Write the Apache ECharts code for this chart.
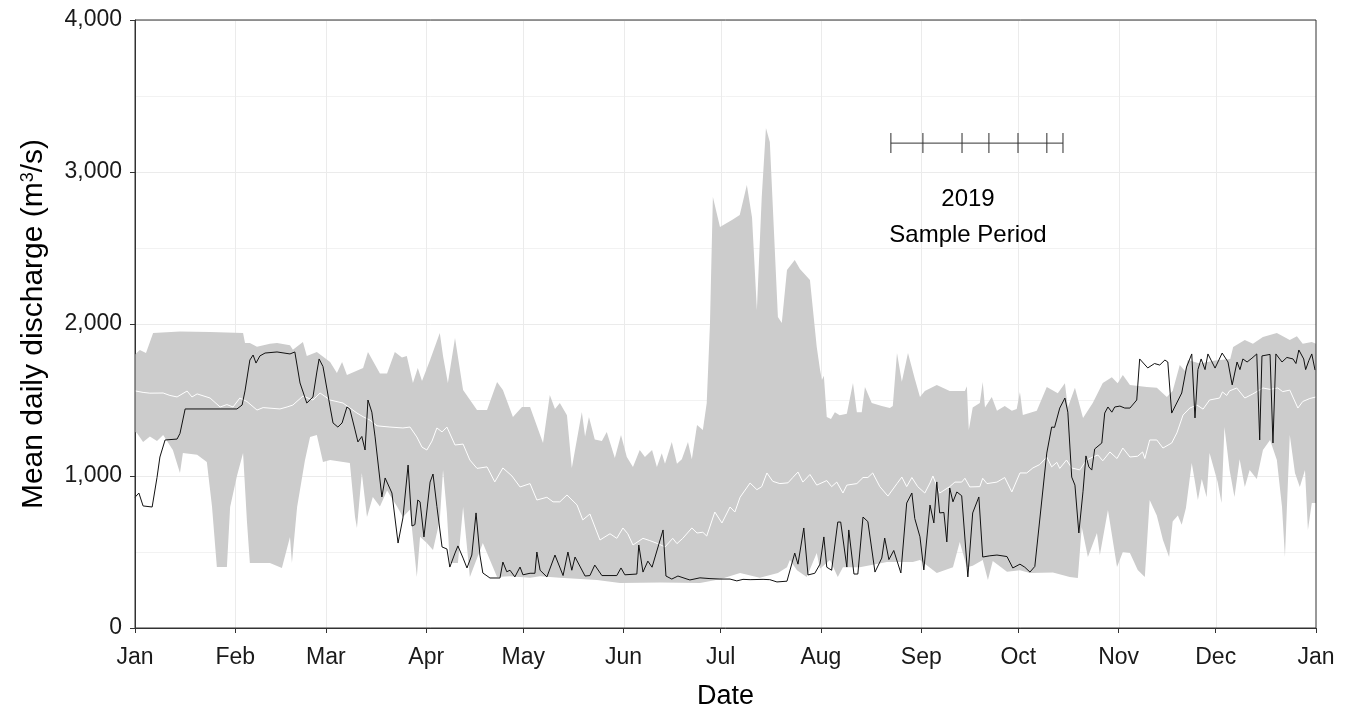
<!DOCTYPE html>
<html>
<head>
<meta charset="utf-8">
<script src="https://cdn.jsdelivr.net/npm/echarts@6/dist/echarts.min.js"></script>
<style>html,body{margin:0;padding:0;background:#fff}#c{width:1351px;height:708px}</style>
</head>
<body>
<div id="c"></div>
<script>
// Day of year (0 = Jan 1) and discharge (m3/s)
const monthDays = [0, 31, 59, 90, 120, 151, 181, 212, 243, 273, 304, 334, 365];
const monthLabels = ['Jan','Feb','Mar','Apr','May','Jun','Jul','Aug','Sep','Oct','Nov','Dec','Jan'];
const yTicks = [0, 1000, 2000, 3000, 4000];

// Historical maximum (upper edge of grey band)
const bandUpper = [[0,1800],[1.5,1829],[3.4,1810],[5.6,1941],[13.9,1950],[23.2,1947],[33.4,1940],[34,1875],[35.5,1875],[37.7,1850],[41.7,1870],[43.9,1875],[47.9,1860],[48.8,1830],[51.9,1882],[53.1,1790],[56.2,1815],[60.3,1750],[62.4,1678],[64,1750],[65.5,1665],[70.5,1710],[72,1816],[75.7,1675],[77.9,1675],[80.3,1816],[82.5,1780],[84,1790],[85.9,1612],[87.4,1711],[88.7,1625],[91.2,1763],[94.2,1941],[95.2,1790],[96.7,1612],[98.9,1908],[101.4,1566],[105.7,1434],[108.8,1434],[111.9,1618],[113.7,1566],[116.8,1388],[119.6,1454],[122.1,1454],[126.1,1217],[128.2,1533],[129.8,1440],[131.3,1480],[133.5,1400],[135,1053],[138.1,1421],[139.1,1260],[140.3,1388],[142.1,1240],[144.3,1230],[145.8,1289],[148.3,1118],[150.2,1270],[152,1125],[153.9,1059],[156,1171],[157.6,1125],[159.8,1171],[161.3,1059],[162.8,1150],[163.8,1080],[165.9,1224],[167.5,1080],[169,1110],[170.9,1224],[172.1,1110],[173.7,1336],[175.5,1303],[176.7,1480],[177.7,2000],[178.6,2836],[180.8,2638],[184.5,2684],[186.9,2717],[189.1,2914],[190.7,2700],[192.2,2092],[193.7,2836],[195,3289],[196.2,3197],[198.7,2046],[199.9,2007],[201.5,2355],[203.9,2421],[205.5,2362],[208.6,2289],[210.7,1849],[211.7,1700],[212.3,1632],[212.9,1660],[213.8,1388],[215.1,1375],[216.3,1420],[217.8,1400],[220,1410],[221.9,1612],[223.1,1420],[224.6,1420],[225.6,1586],[227.7,1480],[230.8,1460],[233.3,1447],[234.2,1460],[235.5,1809],[237,1620],[238.9,1809],[241,1640],[242.6,1520],[244.1,1560],[247.8,1599],[251.8,1560],[256.5,1560],[257.1,1590],[257.7,1303],[258.9,1450],[261.1,1480],[262,1618],[262.7,1450],[264.8,1520],[266.4,1430],[268.8,1460],[271,1430],[272.5,1440],[273.5,1553],[274.4,1401],[278.7,1430],[281.8,1586],[285.2,1545],[287.4,1610],[288.3,1450],[290.5,1580],[293,1382],[296,1480],[299.1,1612],[301.9,1650],[303.7,1610],[305.3,1664],[307.5,1599],[312.7,1586],[315.8,1580],[318.9,1520],[320.7,1560],[322.9,1730],[324.5,1690],[325.4,1763],[329.1,1740],[333.8,1760],[338.5,1770],[339.4,1849],[343,1895],[345.5,1870],[348.6,1914],[352.9,1941],[356.9,1895],[359.1,1920],[360.9,1870],[363.7,1882],[365,1870]];

// Historical minimum (lower edge of grey band)
const bandLower = [[0,1290],[0.6,1283],[2.5,1224],[4.6,1260],[6.8,1230],[8.7,1270],[11.7,1171],[13.9,1020],[14.8,1151],[19.2,1140],[22.2,1092],[23.8,800],[25.3,401],[28.4,401],[29.4,796],[31.5,1000],[33.4,1151],[34.6,700],[35.5,428],[41.7,428],[45.4,395],[47.9,599],[48.5,428],[50.1,796],[52.5,1100],[54.1,1257],[56.2,1270],[58.1,1092],[60.3,1105],[66.4,1085],[68,730],[68.6,658],[70.1,1020],[71.7,730],[73.5,862],[75.7,800],[77.9,905],[81,800],[82.8,730],[85,780],[86.5,467],[87.1,336],[88.1,600],[90.2,560],[92.1,513],[94.2,711],[95.2,1039],[96.4,757],[97.3,428],[99.8,428],[101.4,796],[103.5,336],[107.5,560],[111.9,336],[115.9,340],[122.1,330],[125.2,340],[131.3,330],[142.8,316],[149.9,296],[162.3,300],[174.6,296],[180.8,320],[187,362],[193.1,330],[198.7,362],[201.5,400],[202.4,447],[204.6,380],[207.6,336],[210.7,493],[211.7,390],[214.8,447],[217.2,336],[218.8,400],[224,400],[232.4,434],[240.4,434],[242.6,447],[247.8,362],[252.8,400],[254.9,566],[257.1,400],[258.9,410],[262,447],[263.6,316],[265.1,440],[269.5,370],[273.5,380],[276.6,362],[283.7,365],[288.9,336],[291.4,329],[292.6,665],[294.5,467],[297.3,625],[298.2,480],[300.7,776],[303.5,401],[305.3,500],[307.5,493],[309.9,382],[312.1,336],[313.6,842],[315.8,740],[317.7,579],[319.6,467],[320.7,700],[322.3,740],[323.5,680],[324.8,790],[326.6,1086],[327.6,960],[328.5,842],[329.7,980],[331.2,860],[332.1,1151],[334.6,960],[335.8,822],[336.7,1322],[338.3,1040],[339.8,862],[341.4,1110],[343,928],[344.5,1040],[346.7,980],[348.6,1171],[350.8,1237],[352.9,1105],[354.5,796],[355.4,467],[356.9,1270],[358.5,1020],[360,928],[361.6,1040],[362.5,645],[363.7,822],[365,822]];

// Historical median (white line)
const medianFlow = [[0,1560],[2.5,1550],[4.6,1545],[8.7,1546],[10.8,1530],[13,1520],[16.1,1559],[17.6,1520],[19.2,1540],[23.2,1513],[26.3,1454],[28.4,1470],[30.3,1454],[32.4,1513],[34.6,1490],[37.7,1434],[39.6,1450],[44.8,1441],[47,1454],[48.8,1467],[51.9,1526],[55,1500],[57.2,1546],[60.3,1500],[64.3,1480],[68.6,1414],[70.5,1390],[72.6,1368],[74.8,1330],[78.8,1322],[82.8,1316],[85,1322],[87.1,1257],[88.7,1190],[90.2,1171],[91.8,1230],[93.3,1316],[94.9,1290],[96.4,1322],[98.9,1204],[101.4,1210],[103.5,1105],[105.7,1050],[108.8,1060],[111.2,961],[113.7,1053],[116.5,1000],[119,928],[122.1,950],[124.2,842],[127.3,860],[129.2,830],[131.3,830],[133.5,875],[136.6,810],[138.4,711],[140.6,750],[143.7,579],[146.8,620],[148.9,590],[150.8,658],[152.3,620],[153.9,546],[157,590],[159.1,575],[161.6,555],[163.8,533],[166.2,590],[167.5,555],[169.3,590],[172.1,658],[173.7,625],[175.5,630],[176.7,605],[179.2,763],[181.4,691],[183.9,796],[185.4,763],[187,860],[190.1,954],[192.2,910],[193.7,930],[195.3,1020],[197.1,965],[199.3,950],[201.8,955],[203.3,990],[204.9,1026],[206.4,960],[208.6,1010],[210.7,940],[213.8,970],[215.3,930],[216.9,960],[218.8,888],[220,940],[223.1,950],[225,990],[226.5,990],[228,1020],[230.2,930],[232.7,868],[235.5,950],[237,993],[238.5,930],[240.1,990],[241.9,930],[244.1,888],[245.7,954],[246.6,1000],[248.7,888],[251.8,930],[253.4,960],[255.5,960],[256.5,985],[258,928],[261.1,930],[262,985],[263.3,950],[266.4,960],[268.8,990],[271,895],[273.5,1020],[275.6,1020],[277.5,1053],[279.6,1075],[281.8,1125],[283.3,1060],[284.9,1090],[285.8,1050],[287.9,1105],[289.5,1053],[292,1040],[294.1,1105],[296,1125],[297.6,1138],[299.1,1100],[301.3,1158],[303.5,1115],[305.3,1184],[307.5,1125],[309.9,1130],[311.4,1158],[312.1,1115],[313.6,1237],[315.8,1237],[317.7,1184],[320.4,1217],[322,1283],[323.9,1401],[326,1447],[328.2,1467],[330.1,1440],[332.1,1500],[335.2,1513],[336.1,1553],[337.4,1530],[338.3,1560],[340.5,1579],[343,1513],[345.5,1540],[348.6,1579],[350.8,1570],[353.2,1579],[354.7,1555],[356.9,1565],[359.4,1447],[360.9,1490],[363.1,1510],[365,1520]];

// 2019 mean daily discharge (black line)
const flow2019 = [[0,860],[0.6,855],[1.2,888],[2.5,803],[5.3,796],[6.8,990],[7.7,1125],[9.3,1237],[13,1243],[13.9,1280],[15.5,1441],[31.5,1441],[33.1,1467],[34,1560],[35.5,1763],[36.5,1796],[37.4,1743],[38.6,1790],[40.2,1809],[43.9,1816],[47.9,1803],[49.4,1816],[51,1612],[53.1,1480],[55,1520],[56.2,1684],[56.9,1770],[58.1,1720],[60.3,1454],[61.2,1349],[62.7,1322],[64,1349],[65.5,1454],[66.4,1440],[68,1303],[68.9,1224],[70.1,1260],[71.1,1171],[72,1500],[73.2,1420],[74.2,1257],[76.3,862],[77.3,987],[79.4,888],[81.3,559],[82.8,724],[84.4,1072],[85.6,671],[86.5,680],[87.4,842],[88.1,830],[89.3,599],[91.2,960],[92.1,1013],[93.3,800],[94.9,533],[96.4,520],[97.3,401],[98.9,493],[99.8,540],[101.4,460],[102.6,395],[104.1,480],[105.4,757],[106.6,480],[107.5,362],[109.7,329],[112.8,329],[113.7,434],[114.9,370],[115.9,380],[117.4,336],[119,401],[119.9,350],[122.1,360],[123.6,360],[124.2,500],[125.2,380],[127.3,336],[129.8,480],[132.3,345],[133.8,500],[135,380],[136,467],[139.1,342],[140.6,345],[142.1,414],[144.3,345],[148.9,345],[150.2,395],[151.4,350],[155.1,355],[155.7,546],[157,368],[158.5,440],[159.8,400],[163.2,645],[164.1,342],[165.9,322],[167.8,342],[170.6,322],[171.5,316],[174.6,330],[177.7,325],[180.8,322],[183.9,322],[186,310],[187.9,320],[190.1,318],[194.1,320],[196.2,318],[198.4,303],[201.5,308],[203.9,493],[204.9,420],[206.7,658],[208,349],[210.1,360],[211.7,420],[212.9,599],[213.8,400],[215.3,380],[217.2,697],[218.1,697],[220,401],[220.6,645],[222.2,355],[223.4,355],[225,730],[226.5,700],[228.7,368],[230.8,460],[231.7,592],[233,450],[234.5,510],[236.7,362],[238.5,822],[240.1,888],[241,720],[242.6,600],[243.8,382],[245.7,809],[246.9,691],[247.8,961],[248.7,757],[250,760],[250.9,566],[251.8,921],[252.8,830],[254,895],[255.5,870],[257.4,336],[258.9,757],[260.8,862],[262,467],[264.2,475],[266.4,480],[269.5,470],[271.3,395],[273.5,420],[275,400],[276.6,368],[278.1,405],[278.7,401],[281.8,1151],[283.3,1322],[284.2,1320],[285.8,1447],[287.4,1513],[288.3,1420],[289.5,993],[290.5,940],[291.7,625],[293,900],[293.9,1132],[294.8,1060],[295.7,1039],[296.6,1178],[298.8,1217],[299.7,1414],[300.7,1454],[301.9,1420],[302.8,1454],[304.4,1460],[305.9,1447],[307.5,1447],[309.6,1500],[310.5,1770],[313,1711],[315.1,1740],[316.7,1730],[318.3,1763],[319.2,1750],[320.4,1414],[323.5,1546],[325,1717],[326.6,1803],[327.6,1382],[328.5,1700],[329.5,1770],[330.7,1700],[331.6,1803],[333.8,1710],[336,1809],[337.8,1750],[339.1,1599],[340.6,1750],[341.5,1700],[342.4,1770],[343.7,1750],[345.2,1775],[346.7,1803],[347.6,1237],[348.3,1790],[350.8,1800],[351.7,1217],[352.6,1803],[354.5,1750],[356,1780],[357.9,1770],[358.8,1740],[359.7,1829],[361.2,1770],[361.8,1700],[362.8,1760],[363.7,1803],[364.7,1697]];

// 2019 sample dates (day of year) and level of the marker row
const sampleDays = [233.6, 243.5, 255.6, 263.9, 272.9, 281.8, 286.8];
const sampleLevel = 3190;
const annotationLines = ['2019', 'Sample Period'];

const FONT = '"Liberation Sans", Arial, sans-serif';

function fmtThousands(v) {
  return String(v).replace(/\B(?=(\d{3})+(?!\d))/g, ',');
}

const chart = echarts.init(document.getElementById('c'), null, {renderer: 'canvas'});

const option = {
  animation: false,
  backgroundColor: '#ffffff',
  grid: {left: 135, right: 35, top: 20, bottom: 80, show: true, borderColor: '#333333', borderWidth: 1,
         backgroundColor: 'transparent', z: 10, containLabel: false, outerBoundsMode: 'none'},
  xAxis: {
    type: 'value', min: 0, max: 365,
    name: 'Date', nameLocation: 'middle', nameGap: 55,
    nameTextStyle: {fontFamily: FONT, fontSize: 27, color: '#000'},
    axisLine: {show: true, lineStyle: {color: '#333333', width: 1}},
    axisTick: {show: true, length: 5, customValues: monthDays, lineStyle: {color: '#333333'}},
    axisLabel: {
      customValues: monthDays, margin: 18,
      fontFamily: FONT, fontSize: 23, color: '#1a1a1a',
      formatter: function (v) { const i = monthDays.indexOf(Math.round(v)); return i >= 0 ? monthLabels[i] : ''; }
    },
    splitLine: {show: false}
  },
  yAxis: {
    type: 'value', min: 0, max: 4000, interval: 1000,
    name: 'Mean daily discharge (m{sup|3}/s)', nameLocation: 'middle', nameGap: 86, nameRotate: 90,
    nameTextStyle: {fontFamily: FONT, fontSize: 30, color: '#000',
      rich: {sup: {fontFamily: FONT, fontSize: 18, verticalAlign: 'top', lineHeight: 16, color: '#000'}}},
    axisLine: {show: true, lineStyle: {color: '#333333', width: 1}},
    axisTick: {show: true, length: 5, lineStyle: {color: '#333333'}},
    axisLabel: {margin: 13, fontFamily: FONT, fontSize: 23, color: '#1a1a1a', formatter: fmtThousands},
    splitLine: {show: true, lineStyle: {color: '#ebebeb', width: 1}},
    minorTick: {show: false, splitNumber: 2},
    minorSplitLine: {show: true, lineStyle: {color: '#f2f2f2', width: 1}}
  },
  series: [
    {
      // vertical grid lines at month starts
      type: 'custom', z: 1, silent: true,
      data: monthDays.slice(1, -1).map(d => [d]),
      encode: {x: 0},
      renderItem: function (params, api) {
        const d = api.value(0);
        const a = api.coord([d, 0]);
        const b = api.coord([d, 4000]);
        return {type: 'line', shape: {x1: Math.round(a[0]) + 0.5, y1: a[1], x2: Math.round(b[0]) + 0.5, y2: b[1]}, style: {stroke: '#ebebeb', lineWidth: 1}};
      }
    },
    {
      type: 'custom', z: 2, silent: true,
      data: [[0, 0]],
      renderItem: function (params, api) {
        const pts = bandUpper.map(p => api.coord(p));
        const low = bandLower.map(p => api.coord(p)).reverse();
        return {type: 'polygon', shape: {points: pts.concat(low)}, style: {fill: '#cccccc', stroke: null}};
      }
    },
    {
      type: 'line', z: 3, data: medianFlow, showSymbol: false, symbol: 'none',
      lineStyle: {color: '#ffffff', width: 1}
    },
    {
      type: 'line', z: 4, data: flow2019, showSymbol: false, symbol: 'none',
      lineStyle: {color: '#111111', width: 1}
    },
    {
      type: 'line', z: 4, showSymbol: false, symbol: 'none',
      data: [[sampleDays[0], sampleLevel], [sampleDays[sampleDays.length - 1], sampleLevel]],
      lineStyle: {color: '#333333', width: 1}
    },
    {
      type: 'scatter', z: 4, symbol: 'rect', symbolSize: [1.3, 20],
      data: sampleDays.map(d => [d, sampleLevel]),
      itemStyle: {color: '#333333'}
    }
  ],
  graphic: [
    {type: 'text', z: 100, x: 968, y: 199, style: {text: annotationLines[0], align: 'center', verticalAlign: 'middle', font: '24px ' + FONT, fill: '#000'}},
    {type: 'text', z: 100, x: 968, y: 235, style: {text: annotationLines[1], align: 'center', verticalAlign: 'middle', font: '24px ' + FONT, fill: '#000'}}
  ]
};

chart.setOption(option);
</script>
</body>
</html>
